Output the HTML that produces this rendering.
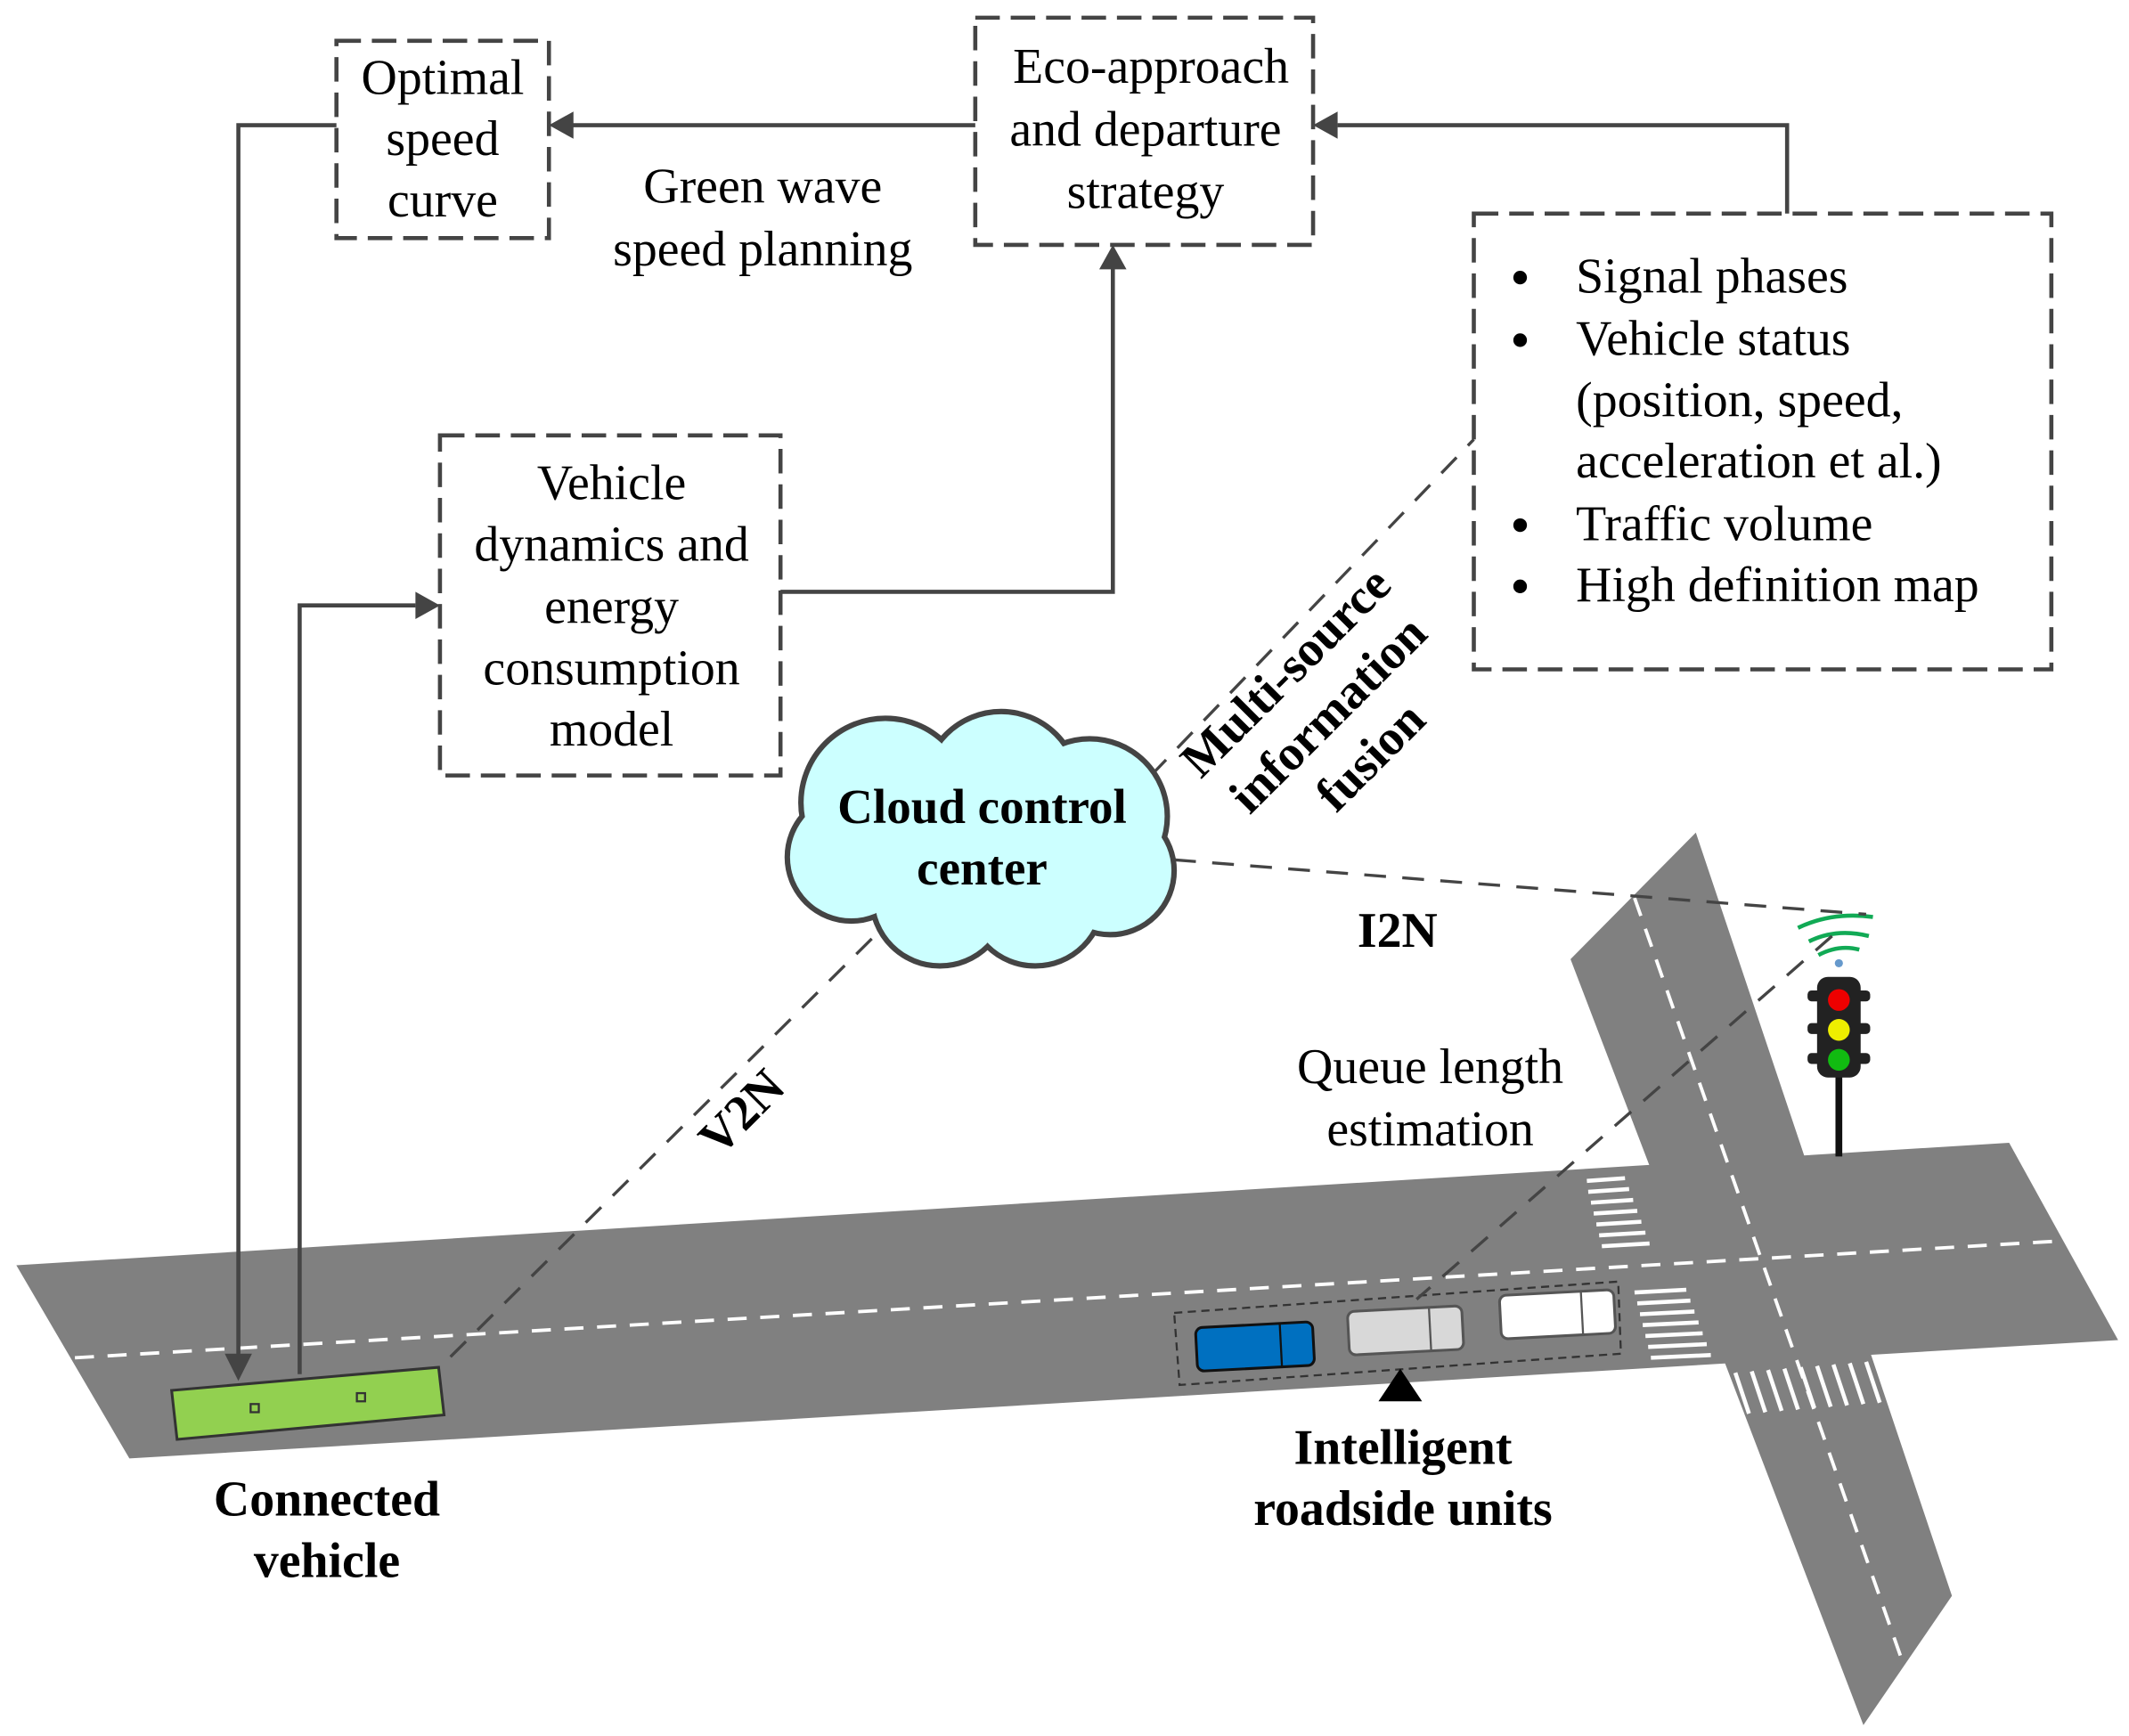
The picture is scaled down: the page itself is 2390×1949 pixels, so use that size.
<!DOCTYPE html>
<html><head><meta charset="utf-8"><style>html,body{margin:0;padding:0;background:#fff}svg{display:block}</style></head>
<body>
<svg width="2390" height="1949" viewBox="0 0 1563 1276" preserveAspectRatio="none" xmlns="http://www.w3.org/2000/svg" font-family="Liberation Serif, serif">
<!-- roads -->
<polygon points="12,930 1475,840 1555,985 95,1072" fill="#808080"/>
<polygon points="1153,705 1245,612 1433,1173 1368,1268" fill="#808080"/>
<line x1="55" y1="998" x2="1515" y2="912" stroke="#fff" stroke-width="2.5" stroke-dasharray="14,10"/>
<line x1="1200" y1="660" x2="1398" y2="1225" stroke="#fff" stroke-width="2.5" stroke-dasharray="14,10"/>
<!-- crosswalks -->
<g stroke="#fff" stroke-width="3">
<line x1="1165" y1="868" x2="1193" y2="866"/><line x1="1166" y1="876" x2="1196" y2="874"/><line x1="1168" y1="884" x2="1199" y2="882"/><line x1="1170" y1="892" x2="1202" y2="890"/><line x1="1172" y1="900" x2="1205" y2="898"/><line x1="1174" y1="908" x2="1208" y2="906"/><line x1="1176" y1="916" x2="1211" y2="914"/>
<line x1="1200" y1="950" x2="1238" y2="948"/><line x1="1202" y1="958" x2="1241" y2="956"/><line x1="1204" y1="966" x2="1244" y2="964"/><line x1="1206" y1="974" x2="1247" y2="972"/><line x1="1208" y1="982" x2="1250" y2="980"/><line x1="1210" y1="990" x2="1253" y2="988"/><line x1="1212" y1="998" x2="1256" y2="996"/>
<line x1="1262" y1="1010" x2="1272" y2="1040"/><line x1="1274" y1="1009" x2="1284" y2="1039"/><line x1="1286" y1="1008" x2="1296" y2="1038"/><line x1="1298" y1="1007" x2="1308" y2="1037"/><line x1="1310" y1="1006" x2="1320" y2="1036"/><line x1="1322" y1="1005" x2="1332" y2="1035"/><line x1="1334" y1="1004" x2="1344" y2="1034"/><line x1="1346" y1="1003" x2="1356" y2="1033"/><line x1="1358" y1="1002" x2="1368" y2="1032"/><line x1="1370" y1="1001" x2="1380" y2="1031"/>
</g>
<!-- traffic light -->
<line x1="1350" y1="785" x2="1350" y2="850" stroke="#111" stroke-width="5"/>
<rect x="1334" y="718" width="32" height="74" rx="8" fill="#222"/>
<rect x="1327" y="728" width="46" height="8" rx="3" fill="#222"/><rect x="1327" y="752" width="46" height="8" rx="3" fill="#222"/><rect x="1327" y="774" width="46" height="8" rx="3" fill="#222"/>
<circle cx="1350" cy="735" r="8" fill="#e00"/><circle cx="1350" cy="757" r="8" fill="#ee0"/><circle cx="1350" cy="779" r="8" fill="#1b1"/>
<circle cx="1350" cy="708" r="3" fill="#6699cc"/>
<g fill="none" stroke="#1a5" stroke-width="3"><path d="M1335,702 Q1350,694 1365,698"/><path d="M1328,692 Q1348,682 1372,688"/><path d="M1320,682 Q1345,670 1375,674"/></g>
<!-- cars box -->
<polygon points="862,965 1188,942 1190,995 866,1018" fill="none" stroke="#333" stroke-width="1.5" stroke-dasharray="6,4"/>
<g transform="rotate(-3 1030 980)">
<rect x="878" y="968" width="86" height="32" rx="5" fill="#0070c0" stroke="#111" stroke-width="2"/>
<rect x="990" y="962" width="84" height="32" rx="5" fill="#d8d8d8" stroke="#555" stroke-width="2"/>
<rect x="1102" y="956" width="84" height="32" rx="5" fill="#fff" stroke="#555" stroke-width="2"/>
<line x1="940" y1="968" x2="940" y2="1000" stroke="#111" stroke-width="1.5"/><line x1="1050" y1="962" x2="1050" y2="994" stroke="#555" stroke-width="1.5"/><line x1="1162" y1="956" x2="1162" y2="988" stroke="#555" stroke-width="1.5"/>
</g>
<polygon points="1028,1006 1012,1030 1044,1030" fill="#000"/>
<!-- connected vehicle -->
<polygon points="126,1022 322,1005 326,1040 130,1058" fill="#92d050" stroke="#333" stroke-width="2"/>
<rect x="184" y="1032" width="6" height="6" fill="none" stroke="#333" stroke-width="1.5"/>
<rect x="262" y="1024" width="6" height="6" fill="none" stroke="#333" stroke-width="1.5"/>
<!-- dashed connectors -->
<g stroke="#444" stroke-width="2.2" stroke-dasharray="16,12" fill="none">
<line x1="845" y1="570" x2="1082" y2="323"/>
<line x1="862" y1="632" x2="1370" y2="672"/>
<line x1="640" y1="690" x2="330" y2="998"/>
<line x1="1345" y1="688" x2="1040" y2="955"/>
</g>
<!-- cloud -->
<g stroke="#444" stroke-width="8" fill="#444">
<circle cx="650" cy="590" r="60"/><circle cx="735" cy="580" r="55"/><circle cx="800" cy="600" r="55"/><circle cx="815" cy="640" r="45"/><circle cx="760" cy="660" r="48"/><circle cx="690" cy="660" r="48"/><circle cx="625" cy="630" r="45"/>
</g>
<g fill="#ccffff">
<circle cx="650" cy="590" r="60"/><circle cx="735" cy="580" r="55"/><circle cx="800" cy="600" r="55"/><circle cx="815" cy="640" r="45"/><circle cx="760" cy="660" r="48"/><circle cx="690" cy="660" r="48"/><circle cx="625" cy="630" r="45"/>
</g>
<text x="721" y="605" font-size="36" font-weight="bold" text-anchor="middle">Cloud control</text>
<text x="721" y="650" font-size="36" font-weight="bold" text-anchor="middle">center</text>
<!-- boxes -->
<g fill="none" stroke="#444" stroke-width="3" stroke-dasharray="18,8">
<rect x="247" y="30" width="156" height="145"/>
<rect x="716" y="13" width="248" height="167"/>
<rect x="323" y="320" width="250" height="250"/>
<rect x="1082" y="157" width="424" height="335"/>
</g>
<!-- arrows -->
<g stroke="#444" stroke-width="3" fill="none">
<polyline points="716,92 420,92"/>
<polyline points="1312,157 1312,92 982,92"/>
<polyline points="573,435 817,435 817,197"/>
<polyline points="247,92 175,92 175,997"/>
<polyline points="220,1010 220,445 305,445"/>
</g>
<g fill="#444">
<polygon points="403,92 421,82 421,102"/>
<polygon points="964,92 982,82 982,102"/>
<polygon points="817,180 807,198 827,198"/>
<polygon points="175,1015 165,995 185,995"/>
<polygon points="323,445 305,435 305,455"/>
</g>
<!-- text -->
<g font-size="36.5" text-anchor="middle" fill="#000">
<text x="325" y="69">Optimal</text><text x="325" y="114">speed</text><text x="325" y="159">curve</text>
<text x="845" y="61">Eco-approach</text><text x="841" y="107">and departure</text><text x="841" y="153">strategy</text>
<text x="560" y="149">Green wave</text><text x="560" y="195">speed planning</text>
<text x="449" y="367">Vehicle</text><text x="449" y="412">dynamics and</text><text x="449" y="458">energy</text><text x="449" y="503">consumption</text><text x="449" y="548">model</text>
<text x="1050" y="796">Queue length</text><text x="1050" y="842">estimation</text>
</g>
<g font-size="36.5" fill="#000">
<text x="1157" y="215">Signal phases</text>
<text x="1157" y="261">Vehicle status</text>
<text x="1157" y="306">(position, speed,</text>
<text x="1157" y="351">acceleration et al.)</text>
<text x="1157" y="397">Traffic volume</text>
<text x="1157" y="442">High definition map</text>
</g>
<g fill="#000"><circle cx="1116" cy="204" r="5"/><circle cx="1116" cy="250" r="5"/><circle cx="1116" cy="386" r="5"/><circle cx="1116" cy="431" r="5"/></g>
<g font-size="36.5" font-weight="bold" text-anchor="middle" fill="#000">
<text x="1026" y="696">I2N</text>
<text x="1030" y="1076">Intelligent</text><text x="1030" y="1121">roadside units</text>
<text x="240" y="1114">Connected</text><text x="240" y="1159">vehicle</text>
<text transform="translate(553,826) rotate(-45)">V2N</text>
<g transform="translate(975,525) rotate(-45)"><text x="0" y="-32">Multi-source</text><text x="0" y="12">information</text><text x="0" y="56">fusion</text></g>
</g>
</svg>
</body></html>
